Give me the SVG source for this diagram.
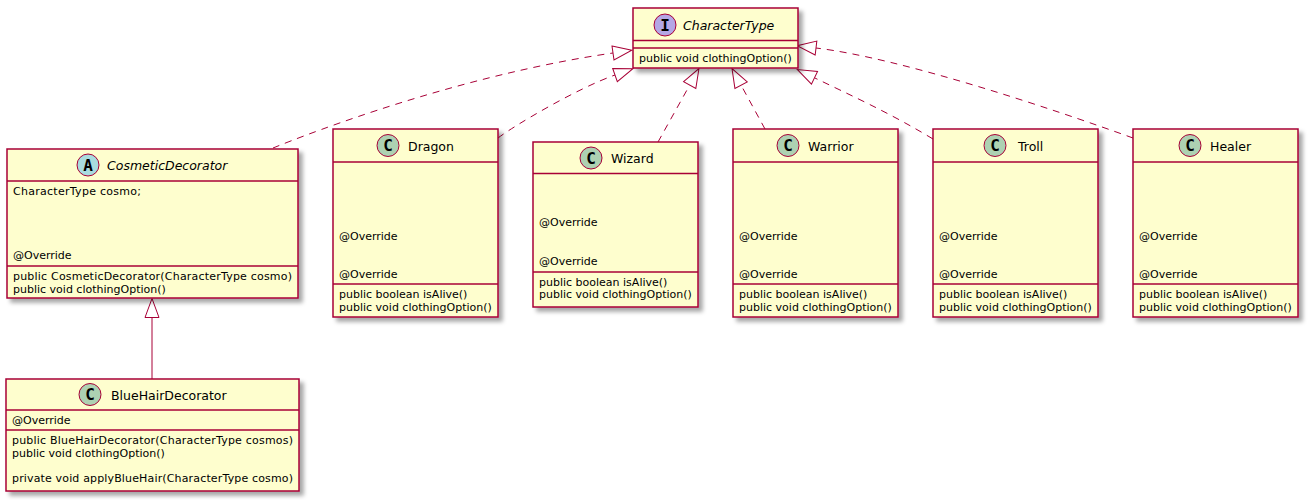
<svg xmlns="http://www.w3.org/2000/svg" width="1308" height="500" viewBox="0 0 1308 500">
<defs>
<style>
.box{fill:#FEFECE;stroke:#A80036;stroke-width:1.5;filter:url(#sh)}
.div{stroke:#A80036;stroke-width:1.5}
.name{font-family:"DejaVu Sans",sans-serif;font-size:12.5px;fill:#000000}
.it{font-style:italic}
.mem{font-family:"DejaVu Sans",sans-serif;font-size:11px;fill:#000000}
.circ{stroke:#A80036;stroke-width:1}
.cl{fill:#ADD1B2}
.ab{fill:#A9DCDF}
.if{fill:#B4A7E5}
.let{font-family:"DejaVu Sans Mono",monospace;font-weight:bold;font-size:16px;text-anchor:middle;fill:#000000}
.edge{fill:none;stroke:#A80036;stroke-width:1;marker-end:url(#ext)}
.dash{stroke-dasharray:7,6}
</style>
<filter id="sh" x="-10%" y="-10%" width="130%" height="130%">
<feDropShadow dx="4" dy="4" stdDeviation="2" flood-color="#000000" flood-opacity="0.35"/>
</filter>
<marker id="ext" markerUnits="userSpaceOnUse" markerWidth="22" markerHeight="18" viewBox="0 0 22 18" refX="1" refY="9" orient="auto" overflow="visible">
<path d="M1,2 L20,9 L1,16 Z" fill="#FFFFFF" stroke="#A80036" stroke-width="1"/>
</marker>
</defs>
<rect width="1308" height="500" fill="#FFFFFF"/>

<g id="connectors">
<path class="edge dash" d="M273,148 C310,133 460,75 613,53"/>
<path class="edge dash" d="M498,138 C515,125 578,88 615,75"/>
<path class="edge dash" d="M658,142 L689.7,85.1"/>
<path class="edge dash" d="M765,129 L741.1,85.2"/>
<path class="edge dash" d="M933,139 C890,113 850,95 814.5,77.8"/>
<path class="edge dash" d="M1133,138 C1050,108 900,58 816,48"/>
<path class="edge" d="M152,379 L152,317.5"/>
</g>

<g id="CharacterType">
<rect class="box" x="633" y="8" width="165" height="60"/>
<circle class="circ if" cx="665" cy="25" r="11"/>
<text class="let" x="665" y="30.8">I</text>
<text class="name it" x="683" y="29.5">CharacterType</text>
<line class="div" x1="633" y1="40.5" x2="798" y2="40.5"/>
<line class="div" x1="633" y1="48" x2="798" y2="48"/>
<text class="mem" x="639" y="61.5">public void clothingOption()</text>
</g>

<g id="CosmeticDecorator">
<rect class="box" x="7" y="149" width="291" height="149"/>
<circle class="circ ab" cx="88" cy="165" r="11"/>
<text class="let" x="88" y="170.8">A</text>
<text class="name it" x="107" y="170">CosmeticDecorator</text>
<line class="div" x1="7" y1="181" x2="298" y2="181"/>
<line class="div" x1="7" y1="266" x2="298" y2="266"/>
<text class="mem" x="13" y="194.7" textLength="128" lengthAdjust="spacing">CharacterType cosmo;</text>
<text class="mem" x="13" y="258.7">@Override</text>
<text class="mem" x="13" y="279.7" textLength="279" lengthAdjust="spacing">public CosmeticDecorator(CharacterType cosmo)</text>
<text class="mem" x="13" y="292.5">public void clothingOption()</text>
</g>

<g id="BlueHairDecorator">
<rect class="box" x="6" y="379" width="293" height="112"/>
<circle class="circ cl" cx="90" cy="394.5" r="11"/>
<text class="let" x="90" y="400.3">C</text>
<text class="name" x="111" y="399.5">BlueHairDecorator</text>
<line class="div" x1="6" y1="410" x2="299" y2="410"/>
<line class="div" x1="6" y1="430" x2="299" y2="430"/>
<text class="mem" x="12" y="423.7">@Override</text>
<text class="mem" x="12" y="443.7" textLength="281" lengthAdjust="spacing">public BlueHairDecorator(CharacterType cosmos)</text>
<text class="mem" x="12" y="456.5">public void clothingOption()</text>
<text class="mem" x="12" y="482.1" textLength="281" lengthAdjust="spacing">private void applyBlueHair(CharacterType cosmo)</text>
</g>

<g id="Dragon">
<rect class="box" x="333" y="129" width="165" height="188"/>
<circle class="circ cl" cx="388" cy="145.5" r="11"/>
<text class="let" x="388" y="151.3">C</text>
<text class="name" x="408" y="150.5">Dragon</text>
<line class="div" x1="333" y1="162" x2="498" y2="162"/>
<line class="div" x1="333" y1="284" x2="498" y2="284"/>
<text class="mem" x="339" y="239.7">@Override</text>
<text class="mem" x="339" y="278.1">@Override</text>
<text class="mem" x="339" y="297.7">public boolean isAlive()</text>
<text class="mem" x="339" y="310.5">public void clothingOption()</text>
</g>

<g id="Wizard">
<rect class="box" x="533" y="142" width="165" height="165"/>
<circle class="circ cl" cx="591" cy="158" r="11"/>
<text class="let" x="591" y="163.8">C</text>
<text class="name" x="611" y="163">Wizard</text>
<line class="div" x1="533" y1="173.5" x2="698" y2="173.5"/>
<line class="div" x1="533" y1="272" x2="698" y2="272"/>
<text class="mem" x="539" y="226.3">@Override</text>
<text class="mem" x="539" y="264.7">@Override</text>
<text class="mem" x="539" y="285.5">public boolean isAlive()</text>
<text class="mem" x="539" y="298.3">public void clothingOption()</text>
</g>

<g id="Warrior">
<rect class="box" x="733" y="129" width="165" height="188"/>
<circle class="circ cl" cx="788" cy="145.5" r="11"/>
<text class="let" x="788" y="151.3">C</text>
<text class="name" x="808" y="150.5">Warrior</text>
<line class="div" x1="733" y1="162" x2="898" y2="162"/>
<line class="div" x1="733" y1="284" x2="898" y2="284"/>
<text class="mem" x="739" y="239.7">@Override</text>
<text class="mem" x="739" y="278.1">@Override</text>
<text class="mem" x="739" y="297.7">public boolean isAlive()</text>
<text class="mem" x="739" y="310.5">public void clothingOption()</text>
</g>

<g id="Troll">
<rect class="box" x="933" y="129" width="165" height="188"/>
<circle class="circ cl" cx="995" cy="145.5" r="11"/>
<text class="let" x="995" y="151.3">C</text>
<text class="name" x="1018" y="150.5">Troll</text>
<line class="div" x1="933" y1="162" x2="1098" y2="162"/>
<line class="div" x1="933" y1="284" x2="1098" y2="284"/>
<text class="mem" x="939" y="239.7">@Override</text>
<text class="mem" x="939" y="278.1">@Override</text>
<text class="mem" x="939" y="297.7">public boolean isAlive()</text>
<text class="mem" x="939" y="310.5">public void clothingOption()</text>
</g>

<g id="Healer">
<rect class="box" x="1133" y="129" width="165" height="188"/>
<circle class="circ cl" cx="1190" cy="145.5" r="11"/>
<text class="let" x="1190" y="151.3">C</text>
<text class="name" x="1210" y="150.5">Healer</text>
<line class="div" x1="1133" y1="162" x2="1298" y2="162"/>
<line class="div" x1="1133" y1="284" x2="1298" y2="284"/>
<text class="mem" x="1139" y="239.7">@Override</text>
<text class="mem" x="1139" y="278.1">@Override</text>
<text class="mem" x="1139" y="297.7">public boolean isAlive()</text>
<text class="mem" x="1139" y="310.5">public void clothingOption()</text>
</g>
</svg>
